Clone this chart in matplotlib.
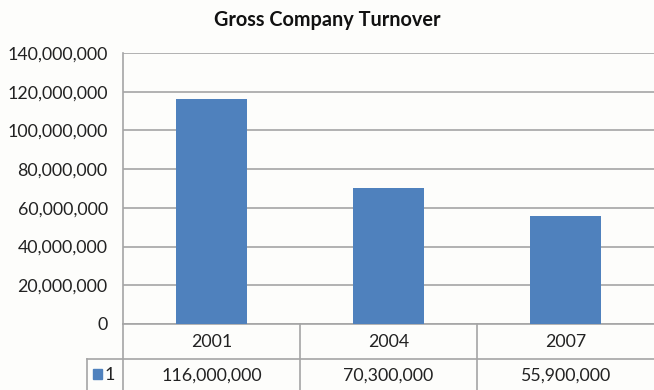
import matplotlib
matplotlib.use("Agg")
import matplotlib.pyplot as plt
from matplotlib.lines import Line2D
from matplotlib.patches import Rectangle

title = "Gross Company Turnover"
years = ["2001", "2004", "2007"]
turnover = [116000000, 70300000, 55900000]
series_name = "1"
y_ticks = [0, 20000000, 40000000, 60000000, 80000000, 100000000, 120000000, 140000000]

W, H = 654, 390
bg = "#FDFDFB"
bar_color = "#4F81BD"
grid_color = "#A5A5A5"
text_color = "#222222"
font = ["Lato", "DejaVu Sans"]
fs = 12.8

fig = plt.figure(figsize=(W / 100, H / 100), dpi=100, facecolor=bg)

# plot area in pixel units
left, right, top, bottom = 123, 654, 53, 324
ax = fig.add_axes([left / W, (H - bottom) / H, (right - left) / W, (bottom - top) / H])
ax.set_facecolor(bg)

x = list(range(len(years)))
ax.bar(x, turnover, width=0.4, color=bar_color, zorder=3)
ax.set_xlim(-0.5, len(years) - 0.5)
ax.set_ylim(0, y_ticks[-1])
ax.set_yticks(y_ticks)
ax.set_yticklabels([f"{v:,}" for v in y_ticks], family=font, fontsize=fs, color=text_color)
ax.set_xticks([])
ax.tick_params(axis="y", length=0, pad=11)
ax.yaxis.grid(True, color=grid_color, linewidth=1.2, zorder=0)
for side in ["top", "right"]:
    ax.spines[side].set_visible(False)
for side in ["left", "bottom"]:
    ax.spines[side].set_color(grid_color)
    ax.spines[side].set_linewidth(1.2)

fig.text(0.5, 1 - 20 / H, title, ha="center", va="center", family=font,
         fontsize=14.3, fontweight="bold", color="#111111")

# data table beneath the axis, built in figure pixels
def fx(px):
    return px / W

def fy(py):
    return 1 - py / H

row1_top, row2_top, table_bottom = bottom, 359, 392
cell_w = (right - left) / len(years)
line_kw = dict(color=grid_color, linewidth=1.2, transform=fig.transFigure)

fig.add_artist(Line2D([fx(87), fx(right)], [fy(row2_top), fy(row2_top)], **line_kw))
fig.add_artist(Line2D([fx(87), fx(87)], [fy(row2_top), fy(table_bottom)], **line_kw))
fig.add_artist(Line2D([fx(left), fx(left)], [fy(row1_top), fy(table_bottom)], **line_kw))
for i in range(1, len(years)):
    xp = left + i * cell_w
    fig.add_artist(Line2D([fx(xp), fx(xp)], [fy(row1_top), fy(table_bottom)], **line_kw))

for i, (yr, val) in enumerate(zip(years, turnover)):
    cx = left + (i + 0.5) * cell_w
    fig.text(fx(cx), fy(342), yr, ha="center", va="center", family=font,
             fontsize=fs, color=text_color)
    fig.text(fx(cx), fy(376), f"{val:,}", ha="center", va="center", family=font,
             fontsize=fs, color=text_color)

fig.add_artist(Rectangle((fx(93), fy(379)), 9 / W, 10 / H, color=bar_color,
                         transform=fig.transFigure))
fig.text(fx(105), fy(375), series_name, ha="left", va="center", family=font,
         fontsize=fs, color=text_color)

fig.savefig("out.png", dpi=100, facecolor=bg)
